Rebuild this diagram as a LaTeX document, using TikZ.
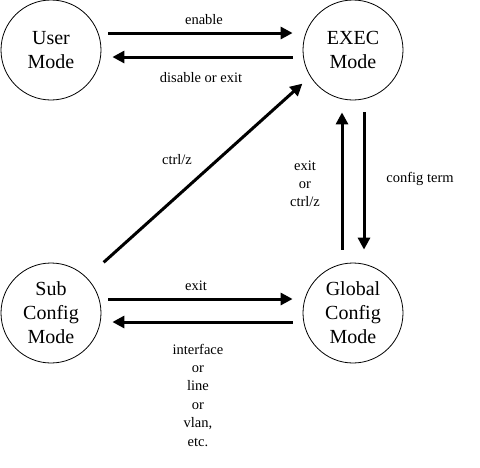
\documentclass[tikz,border=0pt]{standalone}
\usepackage{fontspec}
\setmainfont{Liberation Serif}
\usetikzlibrary{arrows.meta}
\begin{document}
\begin{tikzpicture}[x=1pt,y=1pt,
  mode/.style={circle,draw,line width=0.8pt,minimum size=100pt,inner sep=0pt,
    align=center,font=\fontsize{20}{24}\selectfont},
  arr/.style={line width=3pt,-{Triangle[length=12pt,width=12pt]}},
  lbl/.style={align=center,font=\fontsize{14.5}{18}\selectfont}]

  \useasboundingbox (0,0) rectangle (480,-467);

  \node[mode] (user)   at (51,-50)  {User\\Mode};
  \node[mode] (exec)   at (353,-50) {EXEC\\Mode};
  \node[mode] (sub)    at (51,-313) {Sub\\Config\\Mode};
  \node[mode] (global) at (353,-313) {Global\\Config\\Mode};

  % user <-> exec
  \draw[arr] ([shift={(7,17)}]user.east) -- ([shift={(-10,17)}]exec.west);
  \draw[arr] ([shift={(-10,-7)}]exec.west) -- ([shift={(11,-7)}]user.east);
  \node[lbl] at (204,-20) {enable};
  \node[lbl] at (201,-78) {disable or exit};

  % sub -> exec
  \draw[arr] ([shift={(17,15)}]sub.north east) -- ([shift={(-15,2)}]exec.south west);
  \node[lbl] at (177,-160) {ctrl/z};

  % exec <-> global
  \draw[arr] ([shift={(-11,13)}]global.north) -- ([shift={(-11,-12)}]exec.south);
  \draw[arr] ([shift={(11,-12)}]exec.south) -- ([shift={(11,13)}]global.north);
  \node[lbl] at (305,-184) {exit\\or\\ctrl/z};
  \node[lbl] at (420,-179) {config term};

  % sub <-> global
  \draw[arr] ([shift={(7,14)}]sub.east) -- ([shift={(-10,14)}]global.west);
  \draw[arr] ([shift={(-10,-9)}]global.west) -- ([shift={(11,-9)}]sub.east);
  \node[lbl] at (196,-286) {exit};
  \node[lbl,font=\fontsize{14.5}{18.4}\selectfont] at (198,-395) {interface\\or\\line\\or\\vlan,\\etc.};

\end{tikzpicture}
\end{document}
